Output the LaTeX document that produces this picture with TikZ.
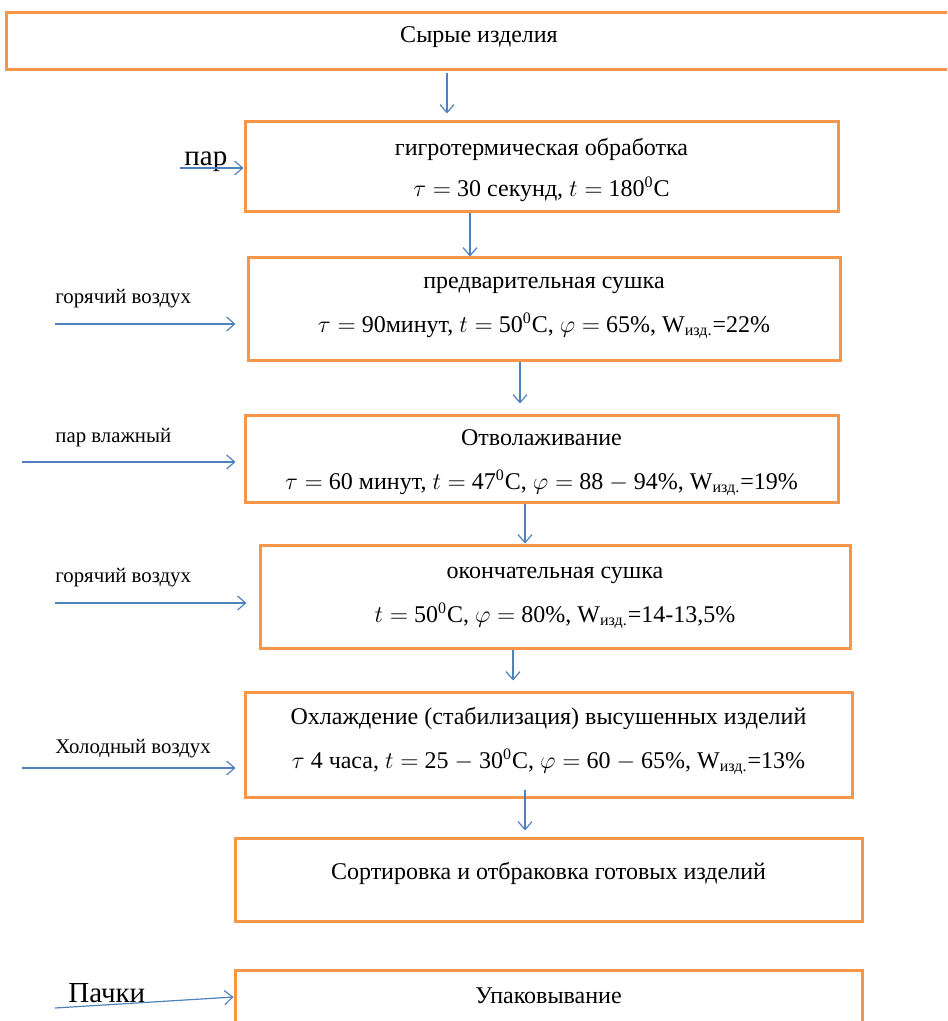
\documentclass[tikz,border=0pt,12pt]{standalone}
\usepackage{fontspec}
\setmainfont{Liberation Serif}
\usepackage{amsmath}
\usetikzlibrary{arrows.meta,positioning}
\definecolor{boxorange}{RGB}{247,150,70}
\definecolor{flowblue}{RGB}{79,129,189}
\tikzset{
	stage/.style={draw=boxorange,line width=1.5pt,inner sep=0pt},
	stagetext/.style={anchor=north,align=center,inner sep=0pt,font=\fontsize{12}{14}\selectfont},
	flow/.style={draw=flowblue,line width=0.6pt,-{Straight Barb[length=4pt,width=7pt]}},
	sidetext/.style={anchor=west,inner sep=0pt,font=\fontsize{10.4}{12}\selectfont},
	bigtext/.style={anchor=west,inner sep=0pt,font=\fontsize{14.5}{16}\selectfont}
}
\newcommand{\wizd}{W\textsubscript{изд.}}
\newcommand{\degc}{\textsuperscript{0}C}
\newcommand{\topline}{\rule{0pt}{10pt}}

\begin{document}
\begin{tikzpicture}[x=0.5pt,y=-0.5pt]
	% page frame
	\clip (0,0) rectangle (947,1021);
	%% the process steps
	\node[stage,minimum width=473pt,minimum height=28.5pt] (raw) at (479,41.5) {};
	\node[stagetext,below=5.2pt of raw.north] (rawtext) {\topline Сырые изделия};
	\node[stage,minimum width=296.5pt,minimum height=45pt] (hyg) at (541.5,167) {};
	\node[stagetext,below=7.2pt of hyg.north] (hygtext)
	{\topline гигротермическая обработка\\[6.5pt]$\tau =$ 30 секунд, $t =$ 180\degc};
	\node[stage,minimum width=296pt,minimum height=51pt] (predry) at (544,309) {};
	\node[stagetext,below=5.7pt of predry.north] (predrytext)
	{\topline предварительная сушка\\[8pt]$\tau =$ 90минут, $t =$ 50\degc, $\varphi =$ 65\%, \wizd=22\%};
	\node[stage,minimum width=296.5pt,minimum height=43.5pt] (temper) at (541.5,458.5) {};
	\node[stagetext,below=5.7pt of temper.north] (tempertext)
	{\topline Отволаживание\\[8pt]$\tau =$ 60 минут, $t =$ 47\degc, $\varphi =$ 88 $-$ 94\%, \wizd=19\%};
	\node[stage,minimum width=295pt,minimum height=51.5pt] (fdry) at (555,596.5) {};
	\node[stagetext,below=7.2pt of fdry.north] (fdrytext)
	{\topline окончательная сушка\\[8pt]$t =$ 50\degc, $\varphi =$ 80\%, \wizd=14-13,5\%};
	\node[stage,minimum width=303.5pt,minimum height=52.5pt] (cool) at (548.5,744.5) {};
	\node[stagetext,below=6.7pt of cool.north] (cooltext)
	{\topline Охлаждение (стабилизация) высушенных изделий\\[8pt]$\tau$ 4 часа, $t =$ 25 $-$ 30\degc, $\varphi =$ 60 $-$ 65\%, \wizd=13\%};
	\node[stage,minimum width=313.5pt,minimum height=41.5pt] (sort) at (548.5,879.5) {};
	\node[stagetext,below=11.2pt of sort.north] (sorttext) {\topline Сортировка и отбраковка готовых изделий};
	\node[stage,minimum width=313.5pt,minimum height=27pt] (pack) at (548.5,997) {};
	\node[stagetext,below=7.2pt of pack.north] (packtext) {\topline Упаковывание};
	%% flow down
	\draw[flow,shorten <=1pt,shorten >=3.5pt] (raw.south -| 447,0) -- (hyg.north -| 447,0);
	\draw[flow] (hyg.south -| 470,0) -- (predry.north -| 470,0);
	\draw[flow,shorten >=5pt] (predry.south -| 520,0) -- (temper.north -| 520,0);
	\draw[flow] (temper.south -| 525,0) -- (fdry.north -| 525,0);
	\draw[flow,shorten >=5pt] (fdry.south -| 513,0) -- (cool.north -| 513,0);
	\draw[flow,shorten <=-4.5pt,shorten >=3pt] (cool.south -| 525,0) -- (sort.north -| 525,0);
	%% the inputs
	\node[bigtext] (steam) at (184,162) {пар};
	\coordinate (steamin) at (180,168);
	\draw[flow] (steamin) -- (steamin -| hyg.west);
	\node[sidetext] (hotair) at (55,299) {горячий воздух};
	\coordinate (hotairin) at (55,324);
	\draw[flow,shorten >=5.5pt] (hotairin) -- (hotairin -| predry.west);
	\node[sidetext] (wetsteam) at (55,438) {пар влажный};
	\coordinate (wetsteamin) at (22,462);
	\draw[flow,shorten >=4pt] (wetsteamin) -- (wetsteamin -| temper.west);
	\node[sidetext] (hotairb) at (55,578) {горячий воздух};
	\coordinate (hotairbin) at (55,603);
	\draw[flow,shorten >=6pt] (hotairbin) -- (hotairbin -| fdry.west);
	\node[sidetext] (coldair) at (55,749) {Холодный воздух};
	\coordinate (coldairin) at (22,768);
	\draw[flow,shorten >=4pt] (coldairin) -- (coldairin -| cool.west);
	\node[bigtext] (packs) at (68,993) {Пачки};
	\coordinate (packsin) at (55,1008);
	\draw[flow] (packsin) -- (pack.west);
\end{tikzpicture}
\end{document}
